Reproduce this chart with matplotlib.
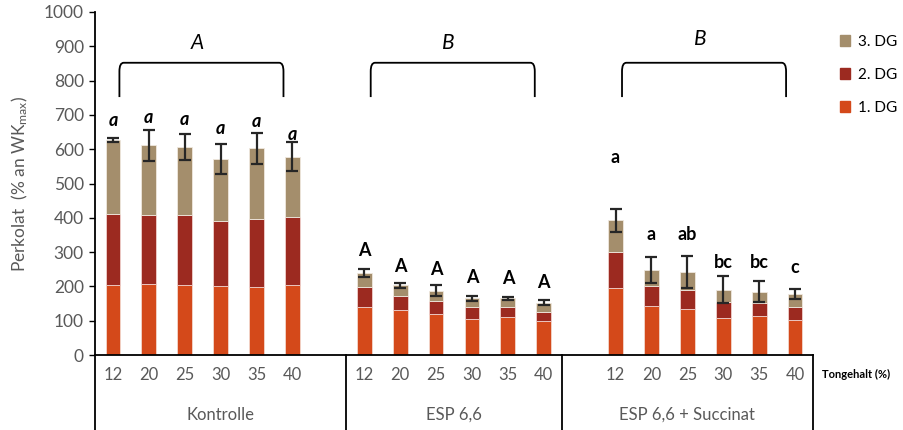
import matplotlib
matplotlib.use("Agg")
import matplotlib.pyplot as plt
from matplotlib.patches import Patch
from matplotlib.path import Path
from matplotlib.patches import PathPatch
import numpy as np

plt.rcParams['font.family'] = ['Lato', 'DejaVu Sans']
plt.rcParams['mathtext.default'] = 'regular'

# daten
groups = ["Kontrolle", "ESP 6,6", "ESP 6,6 + Succinat"]
tongehalt = ["12", "20", "25", "30", "35", "40"]

dg1 = [[205, 208, 203, 200, 198, 204],
       [139, 132, 120, 105, 110, 99],
       [194, 144, 133, 109, 113, 101]]
dg2 = [[206, 200, 205, 191, 199, 198],
       [59, 39, 37, 34, 29, 26],
       [107, 57, 57, 46, 39, 39]]
dg3 = [[217, 204, 199, 180, 206, 176],
       [41, 32, 31, 26, 26, 28],
       [92, 48, 51, 35, 33, 37]]
err = [[6, 45, 38, 43, 45, 42],
       [13, 7, 15, 7, 5, 6],
       [33, 38, 47, 39, 31, 15]]

letters = [["a", "a", "a", "a", "a", "a"],
           ["A", "A", "A", "A", "A", "A"],
           ["a", "a", "ab", "bc", "bc", "c"]]
letter_y = [[685, 691, 688, 659, 682, 643],
            [305, 257, 248, 225, 222, 210],
            [577, 350, 350, 271, 271, 254]]
group_letters = ["A", "B", "B"]
group_letter_y = [910, 910, 921]

# positionen: Kontrolle 0-5 (+1 leer), ESP 7-12, Succinat (1 leer) 14-19
starts = [0, 7, 14]

c1 = "#D4491A"
c2 = "#9C2A20"
c3 = "#A48E6C"
grey = "#595959"

fig = plt.figure(figsize=(9.04, 4.30), dpi=100)
ax = fig.add_axes([95 / 904, 1 - 355 / 430, 718 / 904, 343 / 430])

w = 0.41
for g in range(3):
    x = np.arange(6) + starts[g]
    a1 = np.array(dg1[g])
    a2 = np.array(dg2[g])
    a3 = np.array(dg3[g])
    ax.bar(x, a1, w, color=c1, edgecolor="#f3d7cc", linewidth=0.6)
    ax.bar(x, a2, w, bottom=a1, color=c2, edgecolor="#f0d0cc", linewidth=0.6)
    ax.bar(x, a3, w, bottom=a1 + a2, color=c3, edgecolor="#efe8de", linewidth=0.6)
    top = a1 + a2 + a3
    ax.errorbar(x, top, yerr=err[g], fmt="none", ecolor="#262626",
                elinewidth=1.6, capsize=4.5, capthick=1.6)
    for i in range(6):
        style = "italic" if g == 0 else "normal"
        ax.text(x[i], letter_y[g][i], letters[g][i], ha="center", va="center",
                fontsize=13, fontweight="bold", fontstyle=style, color="black")

    # klammer ueber der gruppe
    x0 = x[0] + 0.18
    x1 = x[-1] - 0.25
    yb, yt = 752, 852
    r = 0.12
    verts = [(x0, yb), (x0, yt - 25), (x0, yt), (x0 + r, yt),
             (x1 - r, yt), (x1, yt), (x1, yt - 25), (x1, yb)]
    codes = [Path.MOVETO, Path.LINETO, Path.CURVE3, Path.CURVE3,
             Path.LINETO, Path.CURVE3, Path.CURVE3, Path.LINETO]
    ax.add_patch(PathPatch(Path(verts, codes), fill=False, lw=1.3, color="black"))
    ax.text((x[0] + x[-1]) / 2 - 0.15, group_letter_y[g], group_letters[g],
            ha="center", va="center", fontsize=15, fontstyle="italic", color="black")

    # kategorie-beschriftung
    for i in range(6):
        ax.text(x[i], -0.058, tongehalt[i], transform=ax.get_xaxis_transform(),
                ha="center", va="center", fontsize=12, color=grey)
    mid = (x[0] + x[-1]) / 2 if g == 1 else (x[0] + x[-1]) / 2 + (0.5 if g == 0 else -0.5)
    ax.text(mid, -0.175, groups[g], transform=ax.get_xaxis_transform(),
            ha="center", va="center", fontsize=12, color=grey)

# trennlinien unten
for xs in [-0.5, 6.5, 12.5, 19.5]:
    ax.plot([xs, xs], [0, -0.219], transform=ax.get_xaxis_transform(),
            color="black", lw=1.3, clip_on=False)

ax.text(19.75, -0.058, "Tongehalt (%)", transform=ax.get_xaxis_transform(),
        ha="left", va="center", fontsize=8, fontweight="bold", color="black")

ax.set_xlim(-0.5, 19.5)
ax.set_ylim(0, 1000)
ax.set_yticks(np.arange(0, 1001, 100))
ax.set_xticks([])
ax.tick_params(axis="y", direction="out", length=4, width=1, labelsize=12.5,
               labelcolor=grey, pad=4)
for s in ["top", "right"]:
    ax.spines[s].set_visible(False)
ax.spines["left"].set_linewidth(1.3)
ax.spines["bottom"].set_linewidth(1.3)
ax.set_ylabel("Perkolat  (% an WK$_{max}$)", fontsize=12.5, color=grey, labelpad=10)

handles = [Patch(color=c3, label="3. DG"), Patch(color=c2, label="2. DG"),
           Patch(color=c1, label="1. DG")]
fig.legend(handles=handles, loc="upper left", bbox_to_anchor=(826 / 904, 1 - 21 / 430),
           frameon=False, handlelength=0.7, handleheight=0.7, handletextpad=0.5,
           labelspacing=1.25, fontsize=11)

fig.savefig("out.png", dpi=100)
